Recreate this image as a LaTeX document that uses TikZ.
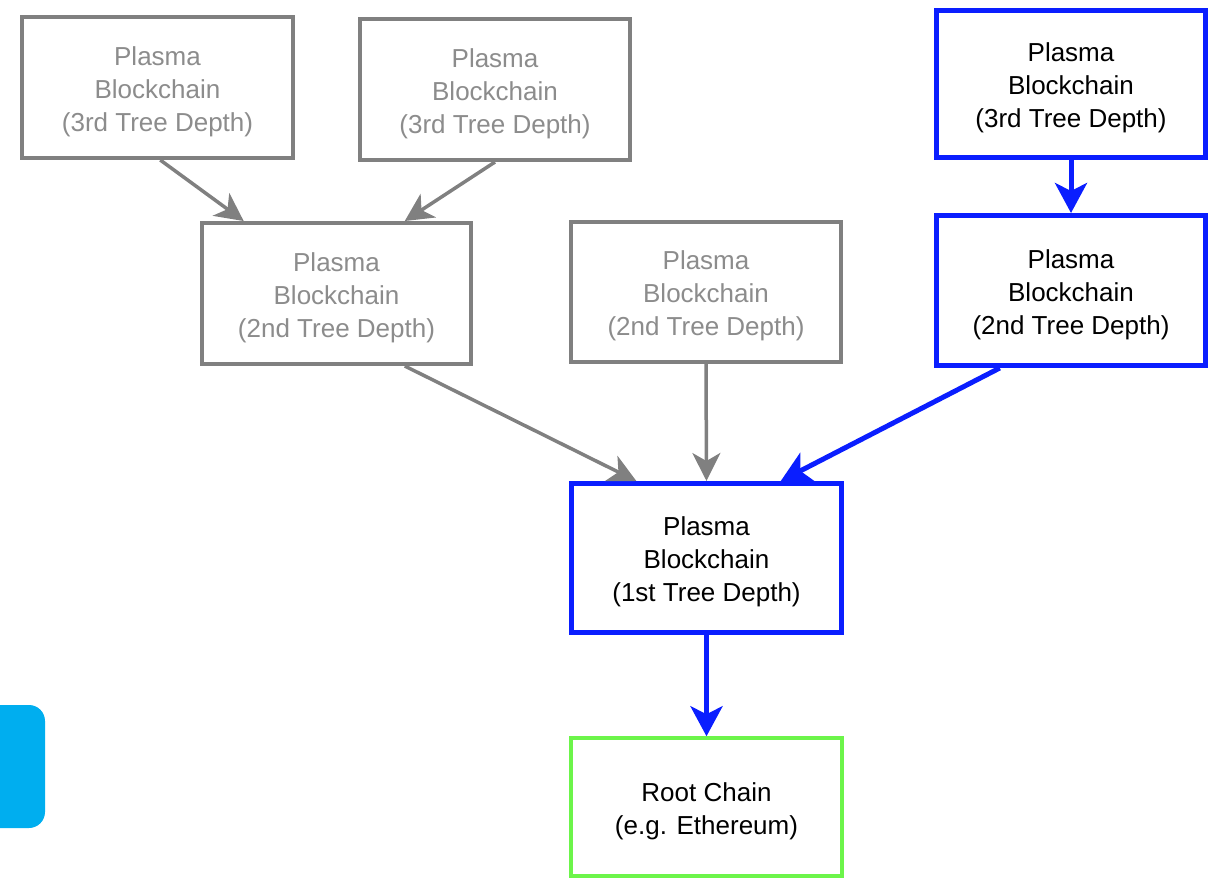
\documentclass[tikz,border=0pt]{standalone}
\usepackage{fontspec}
\setmainfont{Liberation Sans}
\usetikzlibrary{arrows.meta,calc}
\definecolor{boxgray}{HTML}{808080}
\definecolor{txtgray}{HTML}{8C8C8C}
\definecolor{pblue}{HTML}{0A1EFF}
\definecolor{pgreen}{HTML}{6CF54A}
\definecolor{pcyan}{HTML}{00AEEF}
\newcommand{\tup}{\rule{0pt}{27pt}}
\tikzset{
  base/.style={rectangle, align=center, font=\fontsize{26}{33}\selectfont, inner sep=0pt, fill=white},
  graybox/.style={base, draw=boxgray, line width=4pt, text=txtgray},
  bluebox/.style={base, draw=pblue, line width=5pt, text=black},
  greenbox/.style={base, draw=pgreen, line width=3.5pt, text=black},
  grayarr/.style={draw=boxgray, line width=3.5pt, -{Stealth[length=28pt,width=28pt,inset=8pt]}},
  bluearr/.style={draw=pblue, line width=5pt, -{Stealth[length=30pt,width=32pt,inset=8pt]}}
}
\begin{document}
\begin{tikzpicture}[x=1pt,y=-1pt]
\useasboundingbox (0,0) rectangle (1217,880);
\fill[pcyan, rounded corners=16pt] (-20,705) rectangle (45,828);
\node[graybox, minimum width=271pt, minimum height=141pt] (A1) at (157.5,87.5) {\tup Plasma\\Blockchain\\(3rd Tree Depth)};
\node[graybox, minimum width=270pt, minimum height=141pt] (A2) at (495,89.5) {\tup Plasma\\Blockchain\\(3rd Tree Depth)};
\node[bluebox, minimum width=269pt, minimum height=147pt] (A3) at (1071,84) {\tup Plasma\\Blockchain\\(3rd Tree Depth)};
\node[graybox, minimum width=269pt, minimum height=141pt] (B1) at (336.5,293.5) {\tup Plasma\\Blockchain\\(2nd Tree Depth)};
\node[graybox, minimum width=270pt, minimum height=140pt] (B2) at (706,292) {\tup Plasma\\Blockchain\\(2nd Tree Depth)};
\node[bluebox, minimum width=269pt, minimum height=150pt] (B3) at (1071,290.5) {\tup Plasma\\Blockchain\\(2nd Tree Depth)};
\node[bluebox, minimum width=270pt, minimum height=149pt] (C) at (706.5,558) {\tup Plasma\\Blockchain\\(1st Tree Depth)};
\node[greenbox, minimum width=271pt, minimum height=138pt] (D) at (706.5,807) {\tup Root Chain\\(e.g. Ethereum)};
\draw[grayarr] ($(A1.south west)!0.51!(A1.south east)$) -- ($(B1.north west)!0.16!(B1.north east)$);
\draw[grayarr] ($(A2.south west)!0.5!(A2.south east)$) -- ($(B1.north west)!0.75!(B1.north east)$);
\draw[bluearr] (A3.south) -- (B3.north);
\draw[grayarr] ($(B1.south west)!0.75!(B1.south east)$) -- ($(C.north west)!0.245!(C.north east)$);
\draw[grayarr] (B2.south) -- (C.north);
\draw[bluearr] ($(B3.south west)!0.24!(B3.south east)$) -- ($(C.north west)!0.77!(C.north east)$);
\draw[bluearr] (C.south) -- (D.north);
\end{tikzpicture}
\end{document}
